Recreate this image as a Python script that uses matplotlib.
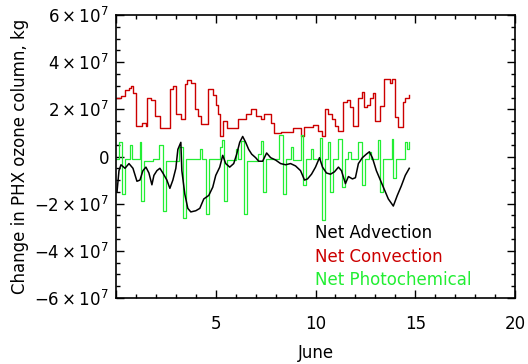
import numpy as np
import matplotlib
matplotlib.use('Agg')
import matplotlib.pyplot as plt
from matplotlib.ticker import MultipleLocator, FixedLocator, FixedFormatter

# Dias de junio (eje x) y valores en unidades de 1e7 kg
dias_conv = [0.00, 0.25, 0.45, 0.65, 0.75, 0.85, 1.00, 1.30, 1.50, 1.55, 1.75, 1.95,
             2.20, 2.70, 2.85, 3.00, 3.25, 3.45, 3.55, 3.75, 3.95, 4.10, 4.25, 4.60,
             4.85, 5.00, 5.10, 5.20, 5.35, 5.55, 6.10, 6.50, 6.75, 7.00, 7.25, 7.40,
             7.75, 7.90, 8.25, 8.85, 9.25, 9.40, 9.85, 10.15, 10.35, 10.50, 10.65,
             10.85, 11.00, 11.15, 11.40, 11.60, 11.75, 11.90, 12.15, 12.35, 12.45,
             12.60, 12.75, 12.90, 13.00, 13.25, 13.45, 13.75, 13.85, 14.00, 14.15,
             14.40, 14.50, 14.70]
conveccion = [2.5, 2.55, 2.8, 2.9, 3.0, 2.7, 1.3, 1.43, 1.3, 2.5, 2.4, 1.7,
              1.2, 2.85, 3.0, 1.8, 1.57, 3.06, 3.23, 3.1, 2.0, 1.7, 1.36, 2.85,
              2.6, 2.2, 1.8, 0.85, 1.5, 1.2, 1.6, 1.8, 2.0, 1.7, 1.6, 1.8,
              1.4, 1.0, 1.05, 1.2, 0.85, 1.25, 1.35, 1.1, 0.85, 2.0, 1.8,
              1.6, 1.3, 1.08, 2.3, 2.4, 2.08, 1.3, 2.5, 2.72, 2.08,
              2.2, 2.5, 2.7, 1.5, 2.14, 3.28, 3.1, 3.3, 1.66, 1.23,
              2.3, 2.5, 2.6]

dias_adv = [0.05, 0.15, 0.25, 0.45, 0.65, 0.85, 1.05, 1.20, 1.35, 1.50, 1.65, 1.80,
            1.90, 2.05, 2.20, 2.35, 2.55, 2.70, 2.85, 3.00, 3.10, 3.25, 3.30, 3.45,
            3.60, 3.75, 4.00, 4.20, 4.40, 4.65, 4.85, 5.00, 5.20, 5.35, 5.50, 5.70,
            5.90, 6.05, 6.20, 6.35, 6.50, 6.65, 6.80, 7.00, 7.15, 7.35, 7.55, 7.75,
            8.00, 8.25, 8.50, 8.75, 9.00, 9.25, 9.45, 9.60, 9.80, 10.00, 10.20,
            10.35, 10.55, 10.75, 10.95, 11.15, 11.30, 11.50, 11.65, 11.85, 12.00,
            12.15, 12.35, 12.55, 12.70, 12.85, 13.05, 13.25, 13.45, 13.65, 13.90,
            14.10, 14.30, 14.50, 14.70]
adveccion = [-1.5, -0.6, -0.35, -0.5, -0.3, -0.5, -1.05, -1.0, -0.6, -0.45, -0.7, -1.2,
             -0.8, -0.6, -0.5, -0.7, -1.0, -1.35, -1.0, -0.5, 0.3, 0.6, -0.6, -1.6,
             -2.2, -2.35, -2.3, -2.2, -1.8, -1.65, -1.3, -0.8, -0.45, 0.05, -0.3, -0.45,
             -0.3, 0.1, 0.6, 0.85, 0.6, 0.3, 0.1, -0.05, -0.2, -0.2, 0.15, -0.05,
             -0.15, -0.3, -0.35, -0.3, -0.4, -0.6, -1.0, -0.95, -0.75, -0.45, -0.05,
             -0.45, -0.7, -0.75, -0.65, -0.45, -0.6, -1.15, -0.85, -0.95, -0.9,
             -0.3, -0.05, 0.1, 0.2, -0.05, -0.6, -1.0, -1.4, -1.8, -2.1,
             -1.65, -1.25, -0.8, -0.5]

dias_foto = [0.00, 0.15, 0.30, 0.45, 0.70, 0.80, 1.20, 1.25, 1.40, 1.85, 2.15, 2.35,
             2.50, 3.15, 3.35, 3.50, 4.20, 4.30, 4.50, 4.65, 5.20, 5.30, 5.40, 5.55,
             6.00, 6.10, 6.25, 6.40, 6.55, 7.10, 7.25, 7.35, 7.50, 8.15, 8.35, 8.50,
             8.75, 8.85, 9.25, 9.35, 9.50, 9.75, 9.85, 10.25, 10.35, 10.50, 10.65,
             10.75, 10.90, 11.15, 11.35, 11.50, 11.65, 11.80, 12.15, 12.35, 12.50,
             12.70, 12.80, 13.15, 13.25, 13.40, 13.85, 13.90, 14.05, 14.50, 14.60,
             14.70]
fotoquimica = [-0.1, 0.6, -1.6, -0.1, 0.5, -0.1, 0.6, -1.9, -0.2, -0.1, 0.5, -2.3,
               -0.2, 0.4, -2.6, -0.1, 0.3, -0.1, -2.45, -0.1, 0.4, 0.7, -1.9, -0.15,
               0.3, -0.1, 0.65, -2.45, -0.2, 0.1, 0.65, -1.5, -0.1, 0.9, -1.6, -0.1,
               0.4, -0.15, 0.9, -1.2, -0.1, 0.3, -0.1, 0.8, -2.7, -0.1, 0.6,
               -1.5, -0.1, 0.75, -1.3, -0.1, 0.2, -0.1, 0.6, -1.2, -0.1,
               0.2, -0.1, 0.7, -1.5, -0.1, 0.75, -0.9, -0.1, 0.6, 0.3,
               0.6]

escala = 1e7
ticks_y = [-6, -4, -2, 0, 2, 4, 6]
etiquetas_y = [r'$-6\times10^{7}$', r'$-4\times10^{7}$', r'$-2\times10^{7}$', '0',
               r'$2\times10^{7}$', r'$4\times10^{7}$', r'$6\times10^{7}$']
ticks_x = [0, 5, 10, 15, 20]
etiquetas_x = ['', '5', '10', '15', '20']

rojo = '#cc0000'
verde = '#22ee33'

plt.rcParams['font.family'] = ['DejaVu Sans']
plt.rcParams['mathtext.fontset'] = 'dejavusans'

fig = plt.figure(figsize=(5.28, 3.64), dpi=100)
ax = fig.add_axes([0.2197, 0.1813, 0.7557, 0.7775])

ax.plot(dias_conv, np.array(conveccion) * escala, color=rojo, lw=1.0, drawstyle='steps-post')
ax.plot(dias_foto, np.array(fotoquimica) * escala, color=verde, lw=0.9, drawstyle='steps-post')
ax.plot(dias_adv, np.array(adveccion) * escala, color='black', lw=1.1)

ax.set_xlim(0, 20)
ax.set_ylim(-6e7, 6e7)

ax.xaxis.set_major_locator(FixedLocator(ticks_x))
ax.xaxis.set_major_formatter(FixedFormatter(etiquetas_x))
ax.xaxis.set_minor_locator(MultipleLocator(1))
ax.yaxis.set_major_locator(FixedLocator([t * escala for t in ticks_y]))
ax.yaxis.set_major_formatter(FixedFormatter(etiquetas_y))
ax.yaxis.set_minor_locator(MultipleLocator(0.5e7))

ax.tick_params(which='both', direction='in', top=True, right=True, width=1.0, labelsize=12)
ax.tick_params(which='major', length=6)
ax.tick_params(which='minor', length=3)
ax.tick_params(axis='x', pad=12)
ax.tick_params(axis='y', pad=5)
for s in ax.spines.values():
    s.set_linewidth(1.2)

ax.set_xlabel('June', fontsize=12, labelpad=8)
ax.set_ylabel('Change in PHX ozone column, kg', fontsize=12)

# leyenda como texto coloreado
ax.text(0.499, 0.23, 'Net Advection', color='black', fontsize=12, transform=ax.transAxes, va='center')
ax.text(0.499, 0.145, 'Net Convection', color=rojo, fontsize=12, transform=ax.transAxes, va='center')
ax.text(0.499, 0.064, 'Net Photochemical', color=verde, fontsize=12, transform=ax.transAxes, va='center')

fig.savefig('out.png', dpi=100)
